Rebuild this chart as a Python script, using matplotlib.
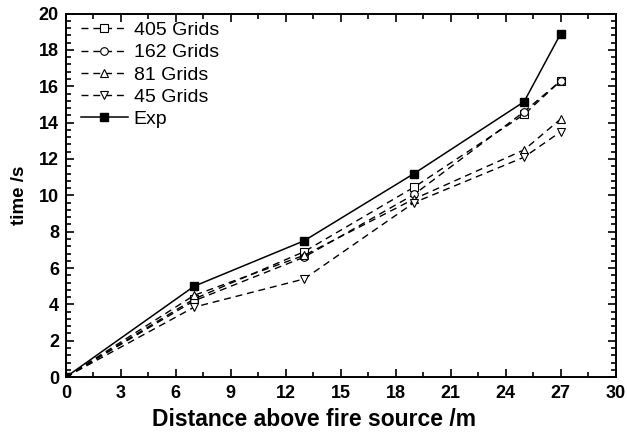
import matplotlib
matplotlib.use("Agg")
import matplotlib.pyplot as plt
from matplotlib.ticker import MultipleLocator

plt.rcParams['font.family'] = ['Liberation Sans', 'DejaVu Sans']

distance = [0, 7, 13, 19, 25, 27]
grids_405 = [0, 4.3, 6.9, 10.45, 14.45, 16.3]
grids_162 = [0, 4.2, 6.6, 10.05, 14.6, 16.3]
grids_81 = [0, 4.5, 6.7, 9.8, 12.5, 14.2]
grids_45 = [0, 3.85, 5.4, 9.6, 12.1, 13.5]
exp_time = [0, 5.0, 7.5, 11.2, 15.15, 18.9]

fig = plt.figure(figsize=(6.27, 4.38), dpi=100)
ax = fig.add_axes([0.105, 0.139, 0.877, 0.830])

dash = (0, (5, 3.5))
common = dict(color='black', lw=1.0, ms=5.5, mfc='white', mec='black', mew=0.8)
ax.plot(distance, grids_405, linestyle=dash, marker='s', label='405 Grids', **common)
ax.plot(distance, grids_162, linestyle=dash, marker='o', label='162 Grids', **common)
ax.plot(distance, grids_81, linestyle=dash, marker='^', label='81 Grids', **common)
ax.plot(distance, grids_45, linestyle=dash, marker='v', label='45 Grids', **common)
ax.plot(distance, exp_time, linestyle='-', marker='s', color='black', lw=1.1,
        ms=5.5, mfc='black', mec='black', label='Exp')

ax.set_xlim(0, 30)
ax.set_ylim(0, 20)
ax.xaxis.set_major_locator(MultipleLocator(3))
ax.xaxis.set_minor_locator(MultipleLocator(1.5))
ax.yaxis.set_major_locator(MultipleLocator(2))
ax.yaxis.set_minor_locator(MultipleLocator(0.4))
ax.tick_params(which='both', direction='in', top=True, right=True, width=1.2)
ax.tick_params(which='major', length=6, labelsize=13)
ax.tick_params(which='minor', length=3.5)
ax.tick_params(axis='x', which='major', pad=6)
ax.tick_params(axis='y', which='major', pad=5)
for lbl in ax.get_xticklabels() + ax.get_yticklabels():
    lbl.set_fontweight('bold')
for sp in ax.spines.values():
    sp.set_linewidth(1.4)

fig.text(0.5, 0.042, 'Distance above fire source /m', fontsize=16.5,
         fontweight='bold', ha='center', va='center')
ax.set_ylabel('time /s', fontsize=13.5, fontweight='bold', labelpad=8)

leg = ax.legend(loc='upper left', frameon=False, fontsize=14, handlelength=2.4,
                handletextpad=0.3, labelspacing=0.24, borderaxespad=0.1,
                bbox_to_anchor=(0.01, 1.005))

fig.savefig('out.png', dpi=100)
